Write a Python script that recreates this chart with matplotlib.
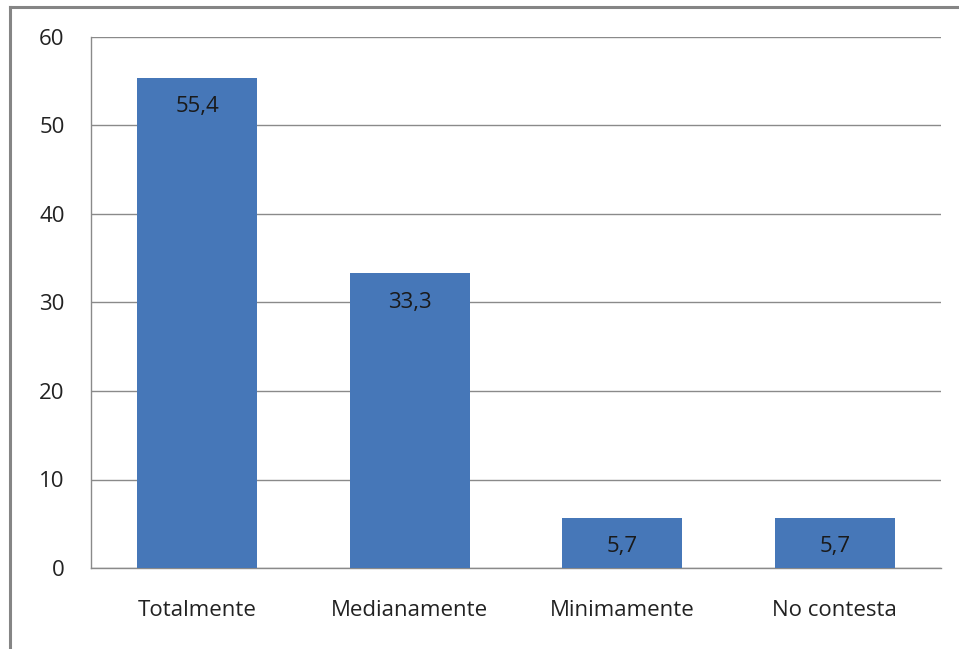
import matplotlib
matplotlib.use("Agg")
import matplotlib.pyplot as plt
from matplotlib.lines import Line2D

categories = ["Totalmente", "Medianamente", "Minimamente", "No contesta"]
values = [55.4, 33.3, 5.7, 5.7]
yticks = [0, 10, 20, 30, 40, 50, 60]

plt.rcParams['font.family'] = ['Open Sans', 'DejaVu Sans']

W, H = 959, 649
fs = 16
fig = plt.figure(figsize=(W/100, H/100), dpi=100)
ax = fig.add_axes([91/W, 1 - 568/H, (941-91)/W, (568-37)/H])

x = list(range(len(categories)))
bars = ax.bar(x, values, width=0.565, color="#4677B8", zorder=3)
ax.set_xlim(-0.5, len(categories) - 0.5)
ax.set_ylim(0, 60)
ax.set_yticks(yticks)
ax.set_yticklabels([str(t) for t in yticks], fontsize=fs, color="#222222")
ax.set_xticks(x)
ax.set_xticklabels(categories, fontsize=fs, color="#222222")
ax.tick_params(axis='both', length=0)
ax.tick_params(axis='y', pad=19)
ax.tick_params(axis='x', pad=23)
ax.grid(axis='y', color="#8a8a8a", linewidth=1.0, zorder=0)
for s in ['top', 'right']:
    ax.spines[s].set_visible(False)
for s in ['left', 'bottom']:
    ax.spines[s].set_color("#8a8a8a")
    ax.spines[s].set_linewidth(1.0)

for xi, v in zip(x, values):
    ax.annotate(f"{v:.1f}".replace('.', ','), (xi, v), xytext=(0, -21),
                textcoords='offset points', ha='center', va='center',
                fontsize=fs, color="#1a1a1a", zorder=4)

fig.add_artist(Line2D([9.5/W, 9.5/W], [0, 1 - 7/H], transform=fig.transFigure,
                      color="#858585", linewidth=2.2))
fig.add_artist(Line2D([9.5/W, 1], [1 - 7/H, 1 - 7/H], transform=fig.transFigure,
                      color="#858585", linewidth=2.2))

fig.savefig("out.png", dpi=100)
